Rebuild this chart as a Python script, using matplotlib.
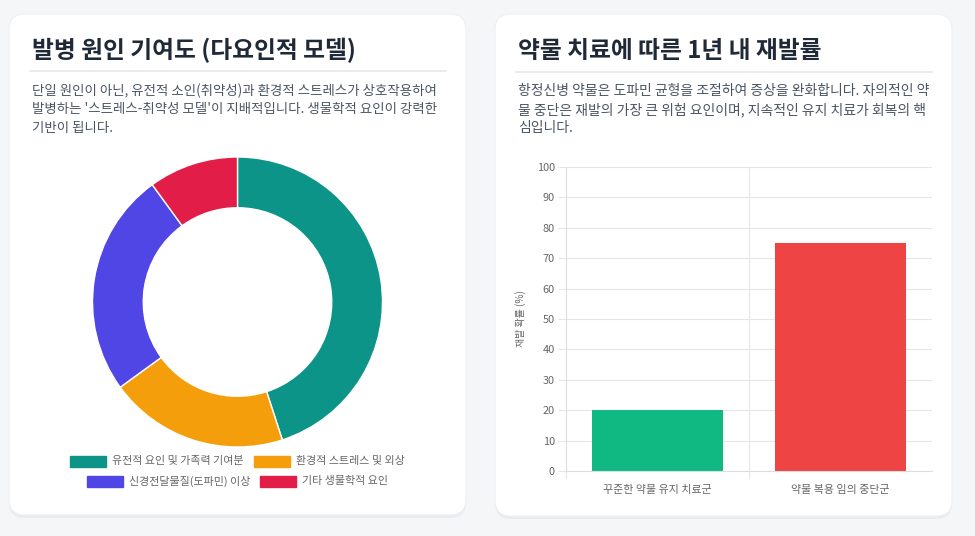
import matplotlib.pyplot as plt
import numpy as np
from matplotlib.patches import FancyBboxPatch, Rectangle

plt.rcParams['font.family'] = ['Noto Sans CJK KR', 'DejaVu Sans']

# donut data
causes = ['유전적 요인 및 가족력 기여분', '환경적 스트레스 및 외상',
          '신경전달물질(도파민) 이상', '기타 생물학적 요인']
cause_vals = [45, 20, 25, 10]
cause_colors = ['#0d9488', '#f59e0b', '#4f46e5', '#e11d48']

# bar data
groups = ['꾸준한 약물 유지 치료군', '약물 복용 임의 중단군']
relapse = [20, 75]
bar_colors = ['#10b981', '#ef4444']

W, H = 975, 536
fig = plt.figure(figsize=(W / 100, H / 100), dpi=100)
fig.patch.set_facecolor('#f5f6f8')

bg = fig.add_axes([0, 0, 1, 1])
bg.set_xlim(0, W)
bg.set_ylim(H, 0)
bg.axis('off')


def px(v):
    return v * 0.72


def card(x0, y0, x1, y1):
    sh = FancyBboxPatch((x0, y0 + 3), x1 - x0, y1 - y0, boxstyle='round,pad=0,rounding_size=16',
                        fc='#e9ebef', ec='none', zorder=1)
    bg.add_patch(sh)
    c = FancyBboxPatch((x0, y0), x1 - x0, y1 - y0, boxstyle='round,pad=0,rounding_size=16',
                       fc='white', ec='#eef0f3', lw=0.8, zorder=2)
    bg.add_patch(c)


card(9, 14, 466, 515)
card(495, 14, 952, 516)

title_kw = dict(fontsize=px(23.8), fontweight='bold', color='#1f2937', va='center', ha='left', zorder=3)
bg.text(32, 50, '발병 원인 기여도 (다요인적 모델)', **title_kw)
bg.text(518, 51, '약물 치료에 따른 1년 내 재발률', **title_kw)
bg.plot([30, 446], [71, 71], color='#e5e7eb', lw=1.2, zorder=3)
bg.plot([516, 932], [72, 72], color='#e5e7eb', lw=1.2, zorder=3)

desc_left = ['단일 원인이 아닌, 유전적 소인(취약성)과 환경적 스트레스가 상호작용하여',
             "발병하는 '스트레스-취약성 모델'이 지배적입니다. 생물학적 요인이 강력한",
             '기반이 됩니다.']
desc_right = ['항정신병 약물은 도파민 균형을 조절하여 증상을 완화합니다. 자의적인 약',
              '물 중단은 재발의 가장 큰 위험 요인이며, 지속적인 유지 치료가 회복의 핵',
              '심입니다.']
for i, line in enumerate(desc_left):
    bg.text(32, 91 + i * 18.5, line, fontsize=px(13.4), color='#4b5563', va='center', zorder=3)
for i, line in enumerate(desc_right):
    bg.text(518, 91 + i * 18.5, line, fontsize=px(13.9), color='#4b5563', va='center', zorder=3)

# donut
cx, cy, r = 237.5, 302, 145
ax1 = fig.add_axes([(cx - r) / W, (H - cy - r) / H, 2 * r / W, 2 * r / H])
ax1.pie(cause_vals, colors=cause_colors, startangle=90, counterclock=False, radius=1,
        wedgeprops=dict(width=0.35, edgecolor='white', linewidth=1))
ax1.set_xlim(-1, 1)
ax1.set_ylim(-1, 1)
ax1.set_aspect('equal')
ax1.axis('off')

# legend rows, centred under the donut
rows = [[0, 1], [2, 3]]
row_y = [461, 481]
bw, bh, gap, sep = 36, 11, 6, 10
renderer = fig.canvas.get_renderer()
for row, yy in zip(rows, row_y):
    texts = []
    widths = []
    for k in row:
        t = bg.text(0, yy, causes[k], fontsize=px(11), color='#666666', va='center', ha='left', zorder=3)
        texts.append(t)
        ext = t.get_window_extent(renderer)
        widths.append(ext.width)
    total = sum(bw + gap + w for w in widths) + sep * (len(row) - 1)
    x = cx - total / 2
    for k, t, w in zip(row, texts, widths):
        bg.add_patch(Rectangle((x, yy - bh / 2), bw, bh, fc=cause_colors[k], ec=cause_colors[k], zorder=3))
        t.set_x(x + bw + gap)
        x += bw + gap + w + sep

# bar chart
x0, x1, ytop, ybot = 566, 932, 167, 471
ax2 = fig.add_axes([x0 / W, (H - ybot) / H, (x1 - x0) / W, (ybot - ytop) / H])
pos = np.arange(len(groups))
ax2.bar(pos, relapse, width=0.72, color=bar_colors, zorder=2)
ax2.set_xlim(-0.5, len(groups) - 0.5)
ax2.set_ylim(0, 100)
ax2.set_yticks(np.arange(0, 101, 10))
ax2.set_xticks(pos)
ax2.set_xticklabels(groups)
ax2.grid(axis='y', color='#e6e6e6', lw=0.8, zorder=0)
ax2.axvline(0.5, color='#e6e6e6', lw=0.8, zorder=0)
for s in ['top', 'right']:
    ax2.spines[s].set_visible(False)
for s in ['left', 'bottom']:
    ax2.spines[s].set_color('#dddddd')
    ax2.spines[s].set_linewidth(0.8)
ax2.tick_params(axis='y', length=6, color='#e6e6e6', labelsize=px(11), labelcolor='#666666', pad=2)
ax2.tick_params(axis='x', length=0, labelsize=px(11), labelcolor='#666666', pad=10)
# x ticks at category borders like the reference
for xb in [-0.5, 0.5]:
    ax2.plot([xb, xb], [0, -2.3], color='#e6e6e6', lw=0.8, clip_on=False)
ax2.set_ylabel('재발 확률 (%)', fontsize=px(10), color='#666666', labelpad=8)
ax2.set_facecolor('white')

fig.savefig('out.png', dpi=100, facecolor=fig.get_facecolor())
